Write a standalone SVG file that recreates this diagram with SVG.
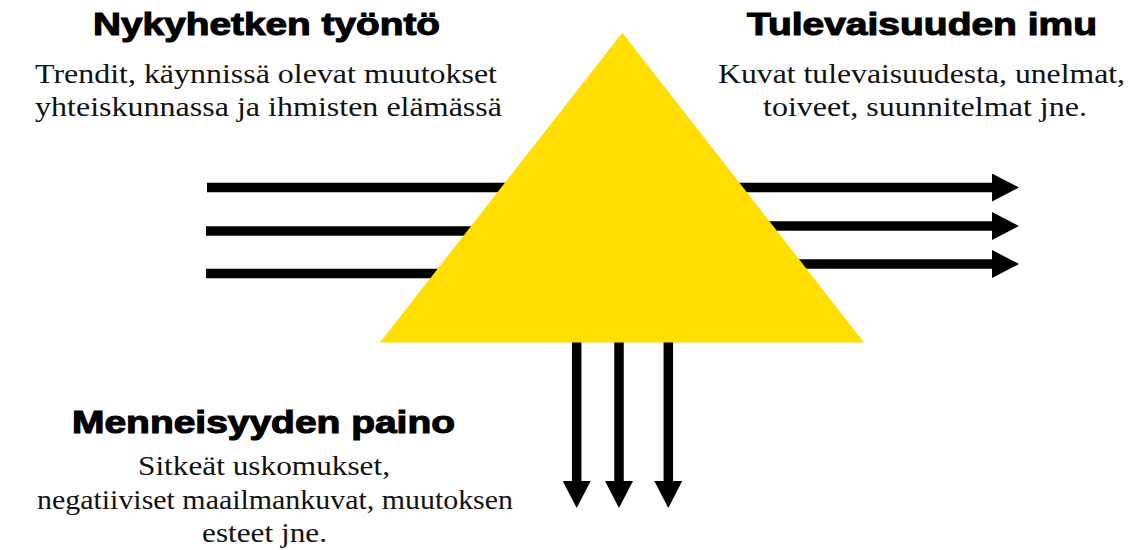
<svg xmlns="http://www.w3.org/2000/svg" width="1136" height="550" viewBox="0 0 1136 550">
  <style>
    .head { font-family: "Liberation Sans", Arial, sans-serif; font-weight: bold; font-size: 31px; fill: #000; stroke: #000; stroke-width: 1.1px; }
    .body { font-family: "Liberation Serif", "Times New Roman", serif; font-size: 28px; fill: #111; }
    .shaft { stroke: #000; stroke-width: 9.5; fill: none; }
  </style>
  <defs>
    <marker id="head" markerUnits="userSpaceOnUse" markerWidth="27" markerHeight="28" viewBox="0 0 27 28" refX="0" refY="14" orient="auto">
      <path d="M0,0 L27,14 L0,28 Z" fill="#000"/>
    </marker>
  </defs>

  <g id="connectors">
    <line class="shaft" x1="207" y1="187.5" x2="560" y2="187.5"/>
    <line class="shaft" x1="206" y1="231" x2="560" y2="231"/>
    <line class="shaft" x1="206" y1="273.5" x2="560" y2="273.5"/>
    <line class="shaft" x1="680" y1="187.5" x2="992" y2="187.5" marker-end="url(#head)"/>
    <line class="shaft" x1="680" y1="226" x2="992" y2="226" marker-end="url(#head)"/>
    <line class="shaft" x1="680" y1="264" x2="992" y2="264" marker-end="url(#head)"/>
    <line class="shaft" x1="576.7" y1="330" x2="576.7" y2="481" marker-end="url(#head)"/>
    <line class="shaft" x1="619" y1="330" x2="619" y2="481" marker-end="url(#head)"/>
    <line class="shaft" x1="668.3" y1="330" x2="668.3" y2="481" marker-end="url(#head)"/>
  </g>

  <g id="triangle">
    <polygon points="622.3,32.7 864,342.5 380,342.5" fill="#FFDE00"/>
  </g>

  <g id="present-push">
    <text class="head" x="93" y="35" textLength="347" lengthAdjust="spacingAndGlyphs">Nykyhetken työntö</text>
    <text class="body" x="35" y="83" textLength="462" lengthAdjust="spacingAndGlyphs">Trendit, käynnissä olevat muutokset</text>
    <text class="body" x="35" y="116" textLength="467" lengthAdjust="spacingAndGlyphs">yhteiskunnassa ja ihmisten elämässä</text>
  </g>

  <g id="future-pull">
    <text class="head" x="747" y="35" textLength="350" lengthAdjust="spacingAndGlyphs">Tulevaisuuden imu</text>
    <text class="body" x="718" y="83" textLength="407" lengthAdjust="spacingAndGlyphs">Kuvat tulevaisuudesta, unelmat,</text>
    <text class="body" x="763" y="116" textLength="324" lengthAdjust="spacingAndGlyphs">toiveet, suunnitelmat jne.</text>
  </g>

  <g id="weight-of-past">
    <text class="head" x="72" y="433" textLength="383" lengthAdjust="spacingAndGlyphs">Menneisyyden paino</text>
    <text class="body" x="138" y="475" textLength="252" lengthAdjust="spacingAndGlyphs">Sitkeät uskomukset,</text>
    <text class="body" x="37" y="509" textLength="476" lengthAdjust="spacingAndGlyphs">negatiiviset maailmankuvat, muutoksen</text>
    <text class="body" x="202" y="542" textLength="125" lengthAdjust="spacingAndGlyphs">esteet jne.</text>
  </g>
</svg>
